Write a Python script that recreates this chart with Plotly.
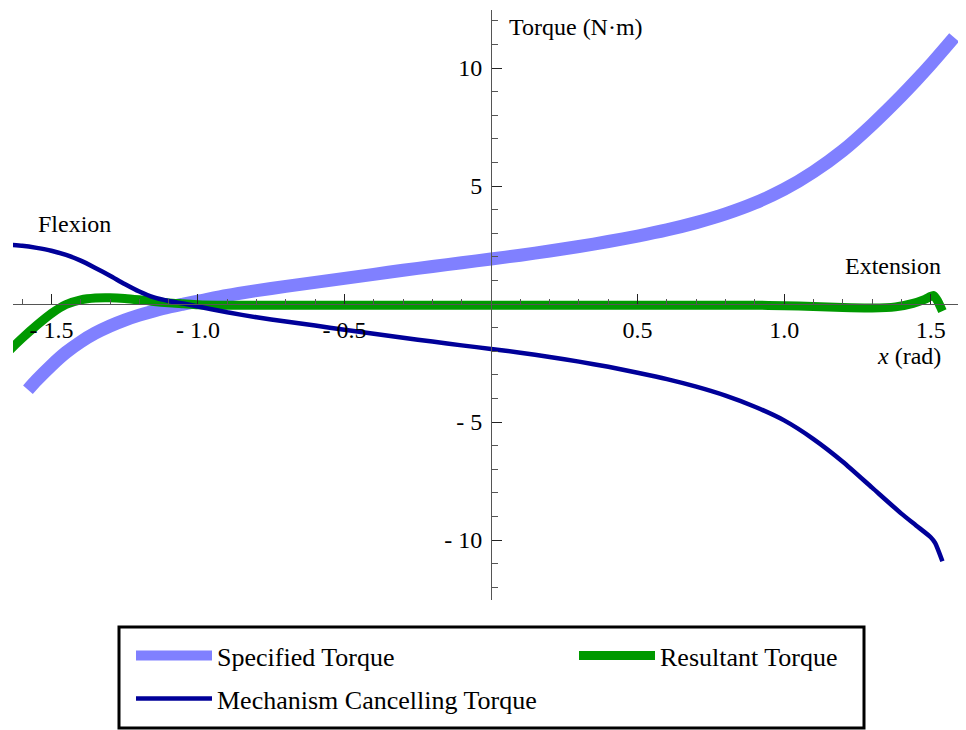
import plotly.graph_objects as go

# ---------------- data ----------------
spec_x = [-1.58, -1.55, -1.5, -1.45, -1.4, -1.35, -1.3, -1.25, -1.2, -1.15, -1.1, -1.05,
          -1.0, -0.9, -0.8, -0.7, -0.6, -0.5, -0.4, -0.3, -0.2, -0.1, 0.0, 0.1, 0.2, 0.3,
          0.4, 0.5, 0.6, 0.7, 0.8, 0.9, 1.0, 1.1, 1.2, 1.3, 1.4, 1.45, 1.5, 1.58]
spec_y = [-3.63, -3.22, -2.6, -2.05, -1.6, -1.23, -0.93, -0.68, -0.47, -0.29, -0.13, 0.0,
          0.12, 0.37, 0.57, 0.75, 0.92, 1.09, 1.26, 1.43, 1.59, 1.75, 1.91, 2.07, 2.25, 2.44,
          2.65, 2.88, 3.14, 3.45, 3.82, 4.28, 4.86, 5.6, 6.5, 7.6, 8.82, 9.47, 10.15, 11.3]

mech_x = [-1.7, -1.65, -1.6, -1.55, -1.5, -1.45, -1.4, -1.35, -1.3, -1.25, -1.2, -1.15,
          -1.1, -1.05, -1.0, -0.9, -0.8, -0.7, -0.6, -0.5, -0.4, -0.3, -0.2, -0.1, 0.0,
          0.1, 0.2, 0.3, 0.4, 0.5, 0.6, 0.7, 0.8, 0.9, 1.0, 1.1, 1.2, 1.3, 1.4, 1.45,
          1.5, 1.515, 1.54]
mech_y = [2.58, 2.52, 2.47, 2.38, 2.26, 2.08, 1.84, 1.53, 1.2, 0.85, 0.53, 0.28,
          0.13, 0.02, -0.1, -0.35, -0.56, -0.74, -0.91, -1.09, -1.26, -1.43, -1.59, -1.75, -1.9,
          -2.06, -2.24, -2.44, -2.66, -2.91, -3.18, -3.5, -3.88, -4.35, -4.93, -5.72, -6.68, -7.78, -8.88, -9.38,
          -9.88, -10.12, -10.9]

res_x = [-1.7, -1.65, -1.6, -1.55, -1.5, -1.45, -1.4, -1.35, -1.3, -1.25, -1.2, -1.15,
         -1.1, -1.05, -1.0, -0.9, -0.5, 0.0, 0.5, 0.9, 1.0, 1.1, 1.2, 1.3, 1.38,
         1.44, 1.48, 1.51, 1.525, 1.54]
res_y = [-2.7, -2.05, -1.45, -0.9, -0.4, -0.02, 0.18, 0.26, 0.27, 0.24, 0.18, 0.11,
         0.05, 0.01, -0.03, -0.05, -0.05, -0.05, -0.05, -0.05, -0.07, -0.1, -0.15, -0.17, -0.12,
         0.03, 0.2, 0.36, 0.1, -0.3]

x_tick_vals = [-1.5, -1.0, -0.5, 0.5, 1.0, 1.5]
x_tick_text = ["- 1.5", "- 1.0", "- 0.5", "0.5", "1.0", "1.5"]
y_tick_vals = [-10, -5, 5, 10]
y_tick_text = ["- 10", "- 5", "5", "10"]

X_MIN, X_MAX = -1.631, 1.60
Y_MIN, Y_MAX = -12.54, 12.46

FONT = "Liberation Serif, Times New Roman, serif"
W, H = 958, 722   # page body adds an 8 px margin
ML, MR, MT, MB = 5, 6, 2, 130
PW, PH = W - ML - MR, H - MT - MB


def px_to_paper_x(fx):
    return (fx - ML) / PW


def px_to_paper_y(fy):
    return (MT + PH - fy) / PH


fig = go.Figure()
fig.add_trace(go.Scatter(x=spec_x, y=spec_y, mode="lines", name="Specified Torque", legend="legend",
                         line=dict(color="#8080FF", width=13, shape="spline", smoothing=0.8)))
fig.add_trace(go.Scatter(x=res_x, y=res_y, mode="lines", name="Resultant Torque", legend="legend2",
                         line=dict(color="#009900", width=9, shape="spline", smoothing=0.6)))
fig.add_trace(go.Scatter(x=mech_x, y=mech_y, mode="lines", name="Mechanism Cancelling Torque",
                         legend="legend3",
                         line=dict(color="#000099", width=4.5, shape="spline", smoothing=0.6)))

legend_common = dict(xref="container", yref="container", xanchor="left", yanchor="top",
                     bordercolor="rgba(0,0,0,0)", borderwidth=3, bgcolor="rgba(0,0,0,0)",
                     font=dict(family=FONT, size=26, color="black"), itemwidth=76)

fig.update_layout(
    width=W, height=H,
    margin=dict(l=ML, r=MR, t=MT, b=MB, autoexpand=False),
    plot_bgcolor="white", paper_bgcolor="white",
    font=dict(family=FONT, size=24, color="black"),
    xaxis=dict(range=[X_MIN, X_MAX], anchor="free", position=(0 - Y_MIN) / (Y_MAX - Y_MIN),
               side="bottom", showline=True, linecolor="#555555", linewidth=1,
               ticks="inside", ticklen=10, tickcolor="#222222", tickwidth=1,
               tickmode="array", tickvals=x_tick_vals, ticktext=x_tick_text,
               tickfont=dict(family=FONT, size=24, color="black"),
               ticklabelstandoff=4, automargin=False,
               showgrid=False, zeroline=False,
               minor=dict(dtick=0.1, tick0=0, ticks="inside", ticklen=5,
                          tickcolor="#555555", showgrid=False)),
    yaxis=dict(range=[Y_MIN, Y_MAX], anchor="free", position=(0 - X_MIN) / (X_MAX - X_MIN),
               side="left", showline=True, linecolor="#555555", linewidth=1,
               ticks="inside", ticklen=10, tickcolor="#222222", tickwidth=1,
               tickmode="array", tickvals=y_tick_vals, ticktext=y_tick_text,
               tickfont=dict(family=FONT, size=24, color="black"),
               ticklabelstandoff=4, automargin=False,
               showgrid=False, zeroline=False,
               minor=dict(dtick=1, tick0=0, ticks="inside", ticklen=6,
                          tickcolor="#555555", showgrid=False)),
    legend=dict(x=120 / W, y=1 - 621 / H, **legend_common),
    legend2=dict(x=563 / W, y=1 - 621 / H, **legend_common),
    legend3=dict(x=120 / W, y=1 - 664 / H, **legend_common),
    showlegend=True,
    shapes=[dict(type="rect", xref="paper", yref="paper",
                 x0=px_to_paper_x(111), x1=px_to_paper_x(856),
                 y0=px_to_paper_y(619), y1=px_to_paper_y(720),
                 line=dict(color="black", width=3), fillcolor="rgba(0,0,0,0)")],
    annotations=[
        dict(x=0.055, y=11.74, xref="x", yref="y", text="Torque (N·m)", showarrow=False,
             xanchor="left", yanchor="middle", font=dict(family=FONT, size=24)),
        dict(x=-1.553, y=3.39, xref="x", yref="y", text="Flexion", showarrow=False,
             xanchor="left", yanchor="middle", font=dict(family=FONT, size=24)),
        dict(x=1.543, y=1.61, xref="x", yref="y", text="Extension", showarrow=False,
             xanchor="right", yanchor="middle", font=dict(family=FONT, size=24)),
        dict(x=1.543, y=-2.22, xref="x", yref="y", text="<i>x</i> (rad)", showarrow=False,
             xanchor="right", yanchor="middle", font=dict(family=FONT, size=24)),
    ],
)

fig.write_html("out.html")
